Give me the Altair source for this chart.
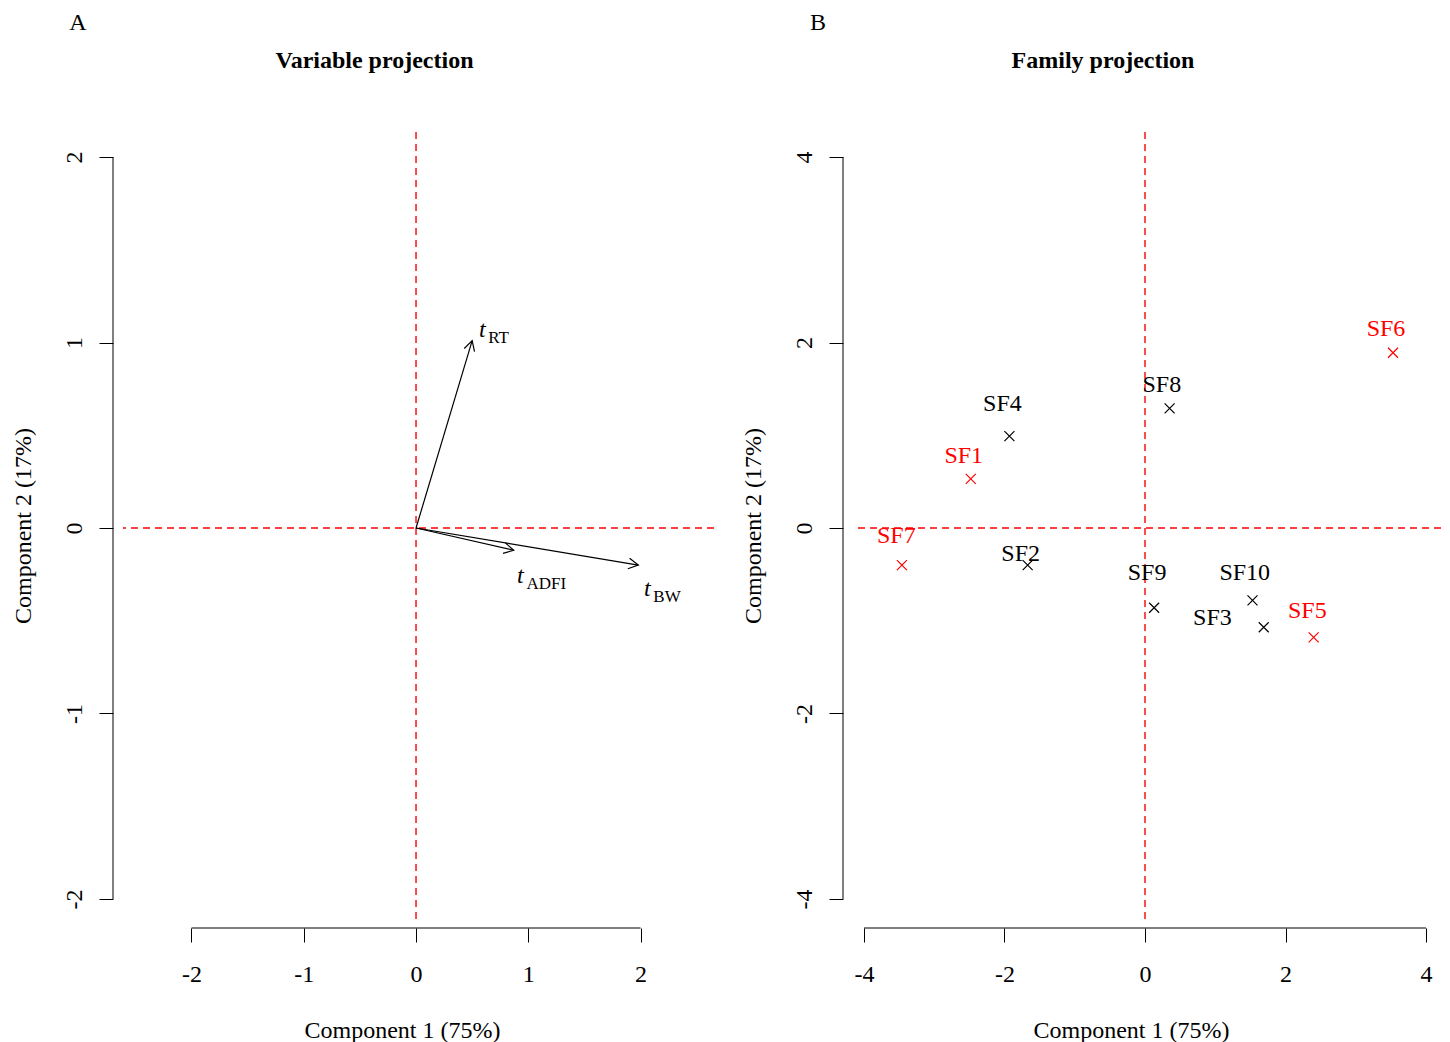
import math
import altair as alt
import pandas as pd

FONT = "Liberation Serif"

# ---------------- data ----------------
# Panel A: variable loadings (arrow tips) and label anchors
var_names = ["RT", "ADFI", "BW"]
var_x = [0.50, 0.87, 1.98]
var_y = [1.01, -0.12, -0.20]
var_label_x = [0.59, 0.93, 2.06]
var_label_y = [1.07, -0.26, -0.33]

# Panel B: family scores and label anchors
fam_names = ["SF1", "SF2", "SF3", "SF4", "SF5", "SF6", "SF7", "SF8", "SF9", "SF10"]
fam_x = [-2.48, -1.67, 1.69, -1.93, 2.40, 3.53, -3.46, 0.35, 0.13, 1.53]
fam_y = [0.53, -0.40, -1.07, 0.99, -1.18, 1.89, -0.40, 1.29, -0.86, -0.78]
fam_label_x = [-2.58, -1.77, 0.96, -2.03, 2.31, 3.43, -3.54, 0.24, 0.03, 1.42]
fam_label_y = [0.78, -0.28, -0.97, 1.34, -0.89, 2.15, -0.09, 1.54, -0.49, -0.49]
fam_highlight = ["yes", "no", "no", "no", "yes", "yes", "yes", "no", "no", "no"]

ticks_A = [-2, -1, 0, 1, 2]
ticks_B = [-4, -2, 0, 2, 4]
xdom_A = [-2.61, 2.654]
ydom_A = [-2.108, 2.135]
xdom_B = [-4.156, 4.213]
ydom_B = [-4.216, 4.27]

x_title = "Component 1 (75%)"
y_title = "Component 2 (17%)"

# ---------------- layout ----------------
WA, WB, H = 591, 588, 787
RED = "#FF0000"
DASH = [7, 5]


def axes(ticks, xdom, ydom, title_x):
    xs = alt.Scale(domain=xdom, nice=False, zero=False)
    ys = alt.Scale(domain=ydom, nice=False, zero=False)
    common = dict(
        values=ticks, domain=False, grid=False, tickSize=14, tickColor="black",
        tickWidth=1, labelExpr="'' + datum.value", labelFont=FONT, labelFontSize=24,
        labelColor="black", labelFlush=False, labelOverlap=False,
        titleFont=FONT, titleFontSize=24, titleFontWeight="normal", titleColor="black",
    )
    xa = alt.Axis(title=x_title, offset=9, labelPadding=20, titlePadding=32,
                  titleX=title_x, **common)
    ya = alt.Axis(title=y_title, offset=10, labelAngle=270, labelAlign="center",
                  labelBaseline="alphabetic", labelPadding=18, titlePadding=27, **common)
    return xs, ys, xa, ya


def frame(ticks, xdom, ydom, letter, letter_dx, title, width, title_x):
    xs, ys, xa, ya = axes(ticks, xdom, ydom, title_x)
    zero = pd.DataFrame({"x": [0.0], "y": [0.0]})
    rng = pd.DataFrame({"lo": [min(ticks)], "hi": [max(ticks)]})
    vline = alt.Chart(zero).mark_rule(color=RED, strokeDash=DASH, strokeWidth=1.4).encode(
        x=alt.X("x:Q", scale=xs, axis=xa))
    hline = alt.Chart(zero).mark_rule(color=RED, strokeDash=DASH, strokeWidth=1.4).encode(
        y=alt.Y("y:Q", scale=ys, axis=ya))
    xline = alt.Chart(rng).mark_rule(color="black", strokeWidth=1).encode(
        x=alt.X("lo:Q", scale=xs, axis=xa), x2="hi:Q", y=alt.value(H + 9))
    yline = alt.Chart(rng).mark_rule(color="black", strokeWidth=1).encode(
        y=alt.Y("lo:Q", scale=ys, axis=ya), y2="hi:Q", x=alt.value(-10))
    let = alt.Chart(pd.DataFrame({"t": [letter]})).mark_text(
        font=FONT, fontSize=24, color="black", align="center", baseline="middle").encode(
        text="t:N", x=alt.value(letter_dx), y=alt.value(-109))
    ttl = alt.Chart(pd.DataFrame({"t": [title]})).mark_text(
        font=FONT, fontSize=24, fontWeight="bold", color="black", align="center",
        baseline="middle").encode(text="t:N", x=alt.value(width / 2 - 44), y=alt.value(-71))
    return xs, ys, xa, ya, [vline, hline, xline, yline, let, ttl]


# ---------------- panel A ----------------
xs, ys, xa, ya, base_A = frame(ticks_A, xdom_A, ydom_A, "A", -45,
                               "Variable projection", WA, 279)
sxA = WA / (xdom_A[1] - xdom_A[0])
syA = H / (ydom_A[1] - ydom_A[0])
df_var = pd.DataFrame({
    "name": var_names, "x": var_x, "y": var_y, "x0": 0.0, "y0": 0.0,
    "lx": var_label_x, "ly": var_label_y, "t": "t",
})
df_var["ang"] = [(math.degrees(math.atan2(-yy * syA, xx * sxA)) + 360) % 360
                 for xx, yy in zip(var_x, var_y)]

shafts = alt.Chart(df_var).mark_rule(color="black", strokeWidth=1.2).encode(
    x=alt.X("x0:Q", scale=xs, axis=xa), y=alt.Y("y0:Q", scale=ys, axis=ya),
    x2="x:Q", y2="y:Q")
heads = alt.Chart(df_var).mark_point(
    shape="M-1,-0.55L0,0L-1,0.55", filled=False, color="black", strokeWidth=1.2,
    size=380, opacity=1).encode(
    x=alt.X("x:Q", scale=xs, axis=xa), y=alt.Y("y:Q", scale=ys, axis=ya),
    angle=alt.Angle("ang:Q", scale=None))
tmain = alt.Chart(df_var).mark_text(
    font=FONT, fontSize=24, fontStyle="italic", color="black", align="center",
    baseline="middle").encode(
    x=alt.X("lx:Q", scale=xs, axis=xa), y=alt.Y("ly:Q", scale=ys, axis=ya), text="t:N")
tsub = alt.Chart(df_var).mark_text(
    font=FONT, fontSize=17, color="black", align="left", baseline="middle",
    dx=6, dy=8).encode(
    x=alt.X("lx:Q", scale=xs, axis=xa), y=alt.Y("ly:Q", scale=ys, axis=ya), text="name:N")

panel_A = alt.layer(*base_A, shafts, heads, tmain, tsub).properties(width=WA, height=H)

# ---------------- panel B ----------------
xs, ys, xa, ya, base_B = frame(ticks_B, xdom_B, ydom_B, "B", -35,
                               "Family projection", WB, 278)
df_fam = pd.DataFrame({
    "name": fam_names, "x": fam_x, "y": fam_y, "lx": fam_label_x, "ly": fam_label_y,
    "hl": fam_highlight,
})
col = alt.Color("hl:N", scale=alt.Scale(domain=["no", "yes"], range=["black", RED]),
                legend=None)
pts = alt.Chart(df_fam).mark_point(
    shape="M-1,-1L1,1M-1,1L1,-1", filled=False, strokeWidth=1.2, size=100,
    opacity=1).encode(
    x=alt.X("x:Q", scale=xs, axis=xa), y=alt.Y("y:Q", scale=ys, axis=ya), color=col)
labs = alt.Chart(df_fam).mark_text(
    font=FONT, fontSize=24, align="center", baseline="middle").encode(
    x=alt.X("lx:Q", scale=xs, axis=xa), y=alt.Y("ly:Q", scale=ys, axis=ya),
    text="name:N", color=col)

panel_B = alt.layer(*base_B, pts, labs).properties(width=WB, height=H)

chart = alt.hconcat(panel_A, panel_B, spacing=26).properties(
    padding={"left": 3, "top": 3, "right": 0, "bottom": 0},
    background="white",
).configure_view(stroke=None)

chart.save("out.html", embed_options={"renderer": "svg", "actions": False})
